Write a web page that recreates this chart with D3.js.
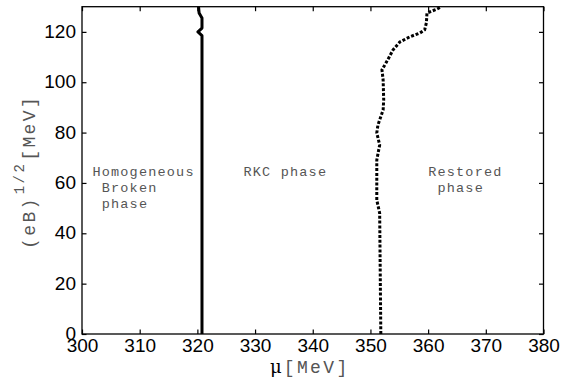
<!DOCTYPE html>
<html>
<head>
<meta charset="utf-8">
<script src="https://cdn.jsdelivr.net/npm/d3@7"></script>
<style>
  html, body { margin: 0; padding: 0; background: #fff; }
  svg { display: block; }
</style>
</head>
<body>
<svg id="chart" width="563" height="381"></svg>
<script>
// ---- data ----
const xTicks = [300, 310, 320, 330, 340, 350, 360, 370, 380];
const yTicks = [0, 20, 40, 60, 80, 100, 120];
// solid boundary: [mu, sqrt(eB)]
const solidMu = [320.8, 320.8, 320.1, 320.8, 320.8, 320.3, 320.2];
const solidEB = [0, 118.5, 120, 121.5, 125.5, 127.5, 130];
// dotted boundary
const dotMu = [351.8, 351.6, 351.1, 351.1, 351.6, 351.1, 351.3, 352.2, 352.3, 352.2, 352.0, 353.0, 353.9, 355.1, 356.8, 358.6, 359.4, 359.7, 359.8, 361.5, 362.3];
const dotEB = [0, 48, 53.2, 69.1, 75.1, 79.9, 83, 89, 93, 100.9, 104.9, 108.9, 112.8, 116, 118, 119.6, 120.8, 123.6, 127.5, 129, 130];
const regionLabels = [
  { lines: ["Homogeneous", " Broken", " phase"], mu: 301.8 },
  { lines: ["RKC phase"], mu: 328.0 },
  { lines: ["Restored", " phase"], mu: 360.0 }
];

// ---- layout ----
const svg = d3.select("#chart");
const L = 82, R = 543.5, T = 6.7, B = 334;
const x = d3.scaleLinear().domain([300, 380]).range([L, R]);
const y = d3.scaleLinear().domain([0, 130]).range([B, T]);

const g = svg.append("g");

// frame
g.append("rect").attr("x", L).attr("y", T).attr("width", R - L).attr("height", B - T)
  .attr("fill", "none").attr("stroke", "#000").attr("stroke-width", 1.3);

// axes with inward ticks
const tk = 4.5;
const xb = g.append("g").attr("transform", `translate(0,${B})`)
  .call(d3.axisBottom(x).tickValues(xTicks).tickSize(-tk).tickPadding(5).tickFormat(d3.format("d")));
const xt = g.append("g").attr("transform", `translate(0,${T})`)
  .call(d3.axisTop(x).tickValues(xTicks).tickSize(-tk).tickFormat(""));
const yl = g.append("g").attr("transform", `translate(${L},0)`)
  .call(d3.axisLeft(y).tickValues(yTicks).tickSize(-tk).tickPadding(6).tickFormat(d3.format("d")));
const yr = g.append("g").attr("transform", `translate(${R},0)`)
  .call(d3.axisRight(y).tickValues(yTicks).tickSize(-tk).tickFormat(""));
[xb, xt, yl, yr].forEach(a => {
  a.select(".domain").remove();
  a.selectAll(".tick line").attr("stroke", "#000").attr("stroke-width", 1.2);
  a.selectAll("text").attr("font-family", "'Liberation Sans', Arial, sans-serif")
    .attr("font-size", 19).attr("fill", "#000");
});
xb.selectAll(".tick text").attr("dy", "0.7em");
yl.selectAll(".tick text").attr("dy", "0.3em");

// lines
const line = d3.line().x(d => x(d[0])).y(d => y(d[1]));
g.append("path").datum(solidMu.map((m, i) => [m, solidEB[i]]))
  .attr("d", line).attr("fill", "none").attr("stroke", "#000").attr("stroke-width", 3)
  .attr("stroke-linejoin", "round");
g.append("path").datum(dotMu.map((m, i) => [m, dotEB[i]]))
  .attr("d", line).attr("fill", "none").attr("stroke", "#000").attr("stroke-width", 3)
  .attr("stroke-dasharray", "3,1.8");

// region labels
const mono = "'Liberation Mono', 'Courier New', monospace";
regionLabels.forEach(r => {
  r.lines.forEach((ln, i) => {
    g.append("text").attr("font-family", mono).attr("font-size", 13.5)
      .attr("letter-spacing", 1.2).attr("fill", "#555").style("white-space", "pre")
      .attr("x", x(r.mu)).attr("y", y(62.6) + i * 15.8).text(ln);
  });
});

// x axis label
const xl = svg.append("text").attr("x", 270).attr("y", 373).attr("fill", "#000");
xl.append("tspan").attr("font-family", "'DejaVu Serif', serif").attr("font-size", 18).text("μ");
xl.append("tspan").attr("font-family", mono).attr("font-size", 18).attr("fill", "#555")
  .attr("letter-spacing", 2.4).attr("dx", 2).text("[MeV]");

// y axis label
const ylab = svg.append("text").attr("transform", "translate(35,249) rotate(-90)")
  .attr("font-family", mono).attr("fill", "#555");
ylab.append("tspan").attr("font-size", 18).attr("letter-spacing", 2.4).text("(eB)");
ylab.append("tspan").attr("font-size", 14).attr("dx", 2).attr("dy", -11).attr("letter-spacing", 2.4).text("1/2");
ylab.append("tspan").attr("font-size", 18).attr("dx", 1).attr("dy", 11).attr("letter-spacing", 2.4).text("[MeV]");
</script>
</body>
</html>
